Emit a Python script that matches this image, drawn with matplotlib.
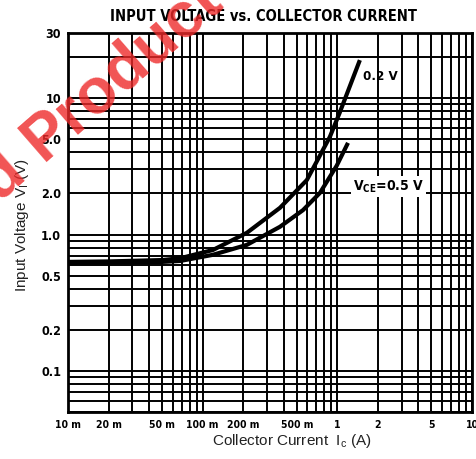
import matplotlib
matplotlib.use("Agg")
import matplotlib.pyplot as plt
import numpy as np
from matplotlib.ticker import LogLocator, NullFormatter

# data
ic_02 = [0.01, 0.02, 0.05, 0.068, 0.119, 0.213, 0.375, 0.594, 0.88, 1.04, 1.47]
vi_02 = [0.63, 0.635, 0.65, 0.67, 0.77, 1.03, 1.57, 2.51, 5.2, 7.8, 19.0]
ic_05 = [0.01, 0.02, 0.05, 0.068, 0.119, 0.213, 0.375, 0.556, 0.743, 0.99, 1.2]
vi_05 = [0.62, 0.625, 0.63, 0.64, 0.71, 0.84, 1.14, 1.51, 2.02, 3.2, 4.7]

xticks = [0.01, 0.02, 0.05, 0.1, 0.2, 0.5, 1, 2, 5, 10]
xlabels = ["10 m", "20 m", "50 m", "100 m", "200 m", "500 m", "1", "2", "5", "10"]
yticks = [0.1, 0.2, 0.5, 1, 2, 5, 10, 30]
ylabels = ["0.1", "0.2", "0.5", "1.0", "2.0", "5.0", "10", "30"]

plt.rcParams['mathtext.default'] = 'regular'
bold = dict(family='DejaVu Sans', weight='bold', stretch='condensed')

fig = plt.figure(figsize=(4.77, 4.59), dpi=100)
ax = fig.add_axes([0.1426, 0.1024, 0.8469, 0.8256])
ax.set_facecolor('white')
ax.set_xscale('log')
ax.set_yscale('log')
ax.set_xlim(0.01, 10)
ax.set_ylim(0.05, 30)

#grid on every minor division
ax.xaxis.set_minor_locator(LogLocator(base=10, subs=np.arange(2, 10)))
ax.yaxis.set_minor_locator(LogLocator(base=10, subs=np.arange(2, 10)))
ax.xaxis.set_minor_formatter(NullFormatter())
ax.yaxis.set_minor_formatter(NullFormatter())
ax.grid(which='both', color='black', lw=1.4)
ax.set_axisbelow(True)

ax.set_xticks(xticks)
ax.set_xticklabels(xlabels, fontsize=7.5, **bold)
ax.set_yticks(yticks)
ax.set_yticklabels(ylabels, fontsize=9, **bold)
ax.tick_params(which='both', length=0)
ax.tick_params(axis='x', pad=6)
ax.tick_params(axis='y', pad=5)
for s in ax.spines.values():
    s.set_linewidth(2)

#curves
ax.plot(ic_02, vi_02, color='black', lw=3, solid_capstyle='butt', zorder=3)
ax.plot(ic_05, vi_05, color='black', lw=3, solid_capstyle='butt', zorder=3)

ax.text(1.55, 14.5, "0.2 V", fontsize=9.5, va='center', ha='left', zorder=4, **bold)
ax.text(1.3, 2.25, "V$_{CE}$=0.5 V", fontsize=10, va='center', ha='left', zorder=4,
        bbox=dict(facecolor='white', edgecolor='none', pad=1.5), **bold)

fig.text(0.552, 0.965, "INPUT VOLTAGE vs. COLLECTOR CURRENT", ha='center', va='center',
         fontsize=10.5, **bold)
fig.text(0.612, 0.04, "Collector Current  I$_c$ (A)", ha='center', va='center',
         fontsize=11, family='Liberation Sans', color='#222222')
fig.text(0.046, 0.51, "Input Voltage V$_I$ (V)", ha='center', va='center', rotation=90,
         fontsize=11, family='Liberation Sans', color='#222222')

#watermark
wm = dict(fontsize=46, family='Liberation Sans', weight='bold', color='#ee2a2a', alpha=0.8,
          rotation=41, rotation_mode='anchor', va='baseline', zorder=10)
fig.text(42 / 477, 1 - 162 / 459, "Product", ha='left', **wm)
fig.text(28 / 477, 1 - 174 / 459, "Discontinued", ha='right', **wm)

fig.savefig("out.png", dpi=100)
